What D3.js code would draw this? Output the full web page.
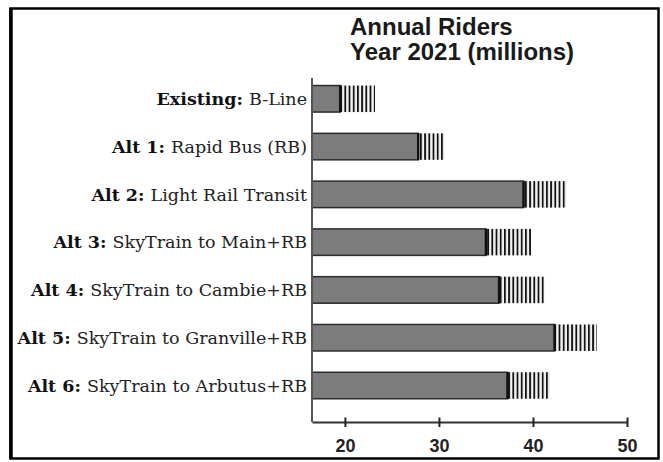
<!DOCTYPE html>
<html>
<head>
<meta charset="utf-8">
<script src="https://cdn.jsdelivr.net/npm/d3@7"></script>
<style>
  html, body { margin: 0; padding: 0; background: #fff; }
  svg { display: block; }
</style>
</head>
<body>
<svg id="chart" width="663" height="462"></svg>
<script>
// ---- data ----
const categories = ["Existing", "Alt 1", "Alt 2", "Alt 3", "Alt 4", "Alt 5", "Alt 6"];
const labelBold = ["Existing:", "Alt 1:", "Alt 2:", "Alt 3:", "Alt 4:", "Alt 5:", "Alt 6:"];
const labelRest = ["B-Line", "Rapid Bus (RB)", "Light Rail Transit", "SkyTrain to Main+RB",
                   "SkyTrain to Cambie+RB", "SkyTrain to Granville+RB", "SkyTrain to Arbutus+RB"];
const ridersLow = [19.5, 27.8, 39.0, 35.0, 36.4, 42.3, 37.3];
const ridersHigh = [23.2, 30.6, 43.6, 39.8, 41.2, 46.8, 41.8];
const xTicks = [20, 30, 40, 50];
const titleLines = ["Annual Riders", "Year 2021 (millions)"];

// ---- drawing ----
const svg = d3.select("#chart");

const x = d3.scaleLinear().domain([16.5, 50]).range([312, 627]);
const y = d3.scalePoint().domain(categories).range([98.8, 385.5]);
const barH = 26.5;

const defs = svg.append("defs");
const pat = defs.append("pattern")
  .attr("id", "hatch").attr("patternUnits", "userSpaceOnUse")
  .attr("width", 4.2).attr("height", 10);
pat.append("rect").attr("width", 4.2).attr("height", 10).attr("fill", "#f2f2f2");
pat.append("rect").attr("x", 0).attr("width", 1.8).attr("height", 10).attr("fill", "#111");

// frame
svg.append("rect").attr("x", 10.5).attr("y", 8.5).attr("width", 648).attr("height", 450)
  .attr("fill", "none").attr("stroke", "#000").attr("stroke-width", 2.5);
svg.append("line").attr("x1", 11).attr("x2", 11).attr("y1", 8).attr("y2", 459)
  .attr("stroke", "#000").attr("stroke-width", 3.5);

// title
svg.append("text")
  .attr("x", 350).attr("y", 34.5)
  .attr("font-family", "'Liberation Sans', Arial, sans-serif")
  .attr("font-weight", "bold").attr("font-size", 24).attr("fill", "#1a1a1a")
  .selectAll("tspan").data(titleLines).join("tspan")
  .attr("x", 350).attr("dy", (d, i) => i === 0 ? 0 : 25.5)
  .text(d => d);

// hatched extension
svg.append("g").selectAll("rect").data(categories).join("rect")
  .attr("x", (d, i) => x(ridersLow[i]))
  .attr("y", d => y(d) - barH / 2)
  .attr("width", (d, i) => x(ridersHigh[i]) - x(ridersLow[i]))
  .attr("height", barH)
  .attr("fill", "url(#hatch)");

// solid bars
svg.append("g").selectAll("rect").data(categories).join("rect")
  .attr("x", x(16.5))
  .attr("y", d => y(d) - barH / 2)
  .attr("width", (d, i) => x(ridersLow[i]) - x(16.5))
  .attr("height", barH)
  .attr("fill", "#7c7c7c")
  .attr("stroke", "#2b2b2b").attr("stroke-width", 1.5);

// thick end line of the solid bars
svg.append("g").selectAll("line").data(categories).join("line")
  .attr("x1", (d, i) => x(ridersLow[i])).attr("x2", (d, i) => x(ridersLow[i]))
  .attr("y1", d => y(d) - barH / 2).attr("y2", d => y(d) + barH / 2)
  .attr("stroke", "#111").attr("stroke-width", 2.5);

// vertical axis
svg.append("line")
  .attr("x1", x(16.5)).attr("x2", x(16.5)).attr("y1", 78).attr("y2", 422)
  .attr("stroke", "#555").attr("stroke-width", 2);

// x axis
const xAxis = svg.append("g").attr("transform", "translate(0,422)")
  .call(d3.axisBottom(x).tickValues(xTicks).tickSizeOuter(0).tickSizeInner(5).tickPadding(12));
xAxis.select(".domain").attr("stroke", "#333").attr("stroke-width", 1.8);
xAxis.selectAll(".tick line").attr("y1", -4.5).attr("y2", 5).attr("stroke", "#222").attr("stroke-width", 2);
xAxis.selectAll(".tick text")
  .attr("font-family", "'Liberation Sans', Arial, sans-serif")
  .attr("font-weight", "bold").attr("font-size", 18).attr("fill", "#222");

// category labels
const lab = svg.append("g").selectAll("text").data(categories).join("text")
  .attr("x", 307).attr("y", d => y(d)).attr("dy", "0.36em")
  .attr("text-anchor", "end")
  .attr("font-family", "'DejaVu Serif', serif")
  .attr("font-size", 17.5).attr("fill", "#222");
lab.append("tspan").attr("font-weight", "bold").attr("fill", "#111").text((d, i) => labelBold[i] + " ");
lab.append("tspan").text((d, i) => labelRest[i]);
</script>
</body>
</html>
